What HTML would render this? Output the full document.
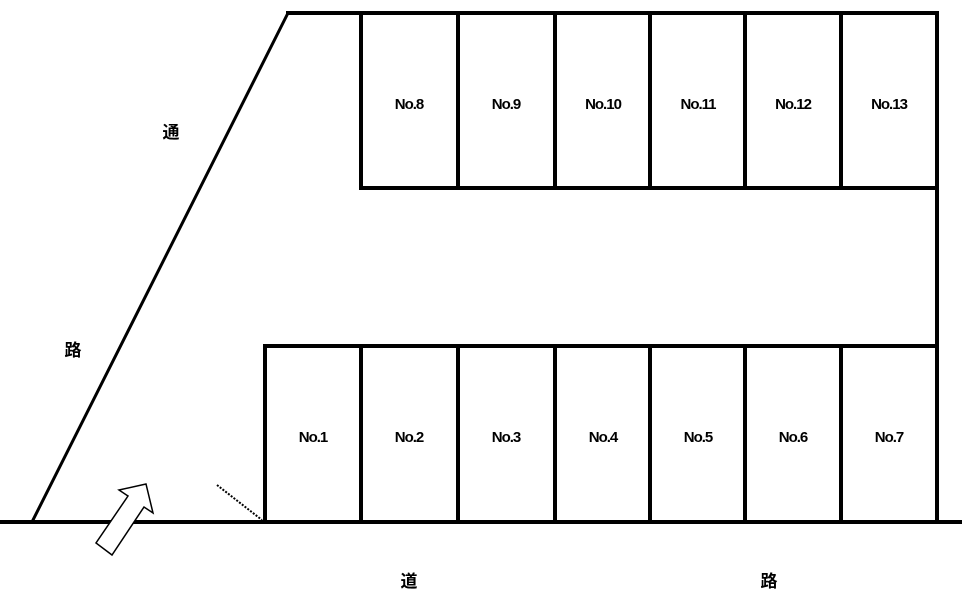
<!DOCTYPE html>
<html><head><meta charset="utf-8"><style>
html,body{margin:0;padding:0;background:#fff;width:967px;height:597px;overflow:hidden}
svg{display:block}
.n{font-family:"Liberation Sans","Noto Sans CJK JP",sans-serif;font-size:15px;font-weight:bold;text-anchor:middle;letter-spacing:-1px}
.k{font-family:"Liberation Sans","Noto Sans CJK JP",sans-serif;font-size:17px;font-weight:bold;text-anchor:middle}
</style></head><body>
<svg width="967" height="597" viewBox="0 0 967 597" xmlns="http://www.w3.org/2000/svg">
<g stroke="#000" stroke-width="4" fill="none" stroke-linecap="square">
<line x1="2" y1="522" x2="960" y2="522"/>
<line x1="288" y1="13" x2="32" y2="522" stroke-width="3"/>
<line x1="288" y1="13" x2="937" y2="13"/>
<line x1="937" y1="13" x2="937" y2="522"/>
<line x1="361" y1="188" x2="937" y2="188"/>
<line x1="265" y1="346" x2="937" y2="346"/>
<line x1="265" y1="346" x2="265" y2="522"/>
<line x1="361" y1="13" x2="361" y2="188"/>
<line x1="458" y1="13" x2="458" y2="188"/>
<line x1="555" y1="13" x2="555" y2="188"/>
<line x1="650" y1="13" x2="650" y2="188"/>
<line x1="745" y1="13" x2="745" y2="188"/>
<line x1="841" y1="13" x2="841" y2="188"/>
<line x1="361" y1="346" x2="361" y2="522"/>
<line x1="458" y1="346" x2="458" y2="522"/>
<line x1="555" y1="346" x2="555" y2="522"/>
<line x1="650" y1="346" x2="650" y2="522"/>
<line x1="745" y1="346" x2="745" y2="522"/>
<line x1="841" y1="346" x2="841" y2="522"/>
</g>
<line x1="217" y1="485" x2="262" y2="520" stroke="#000" stroke-width="2" stroke-dasharray="2,1.5"/>
<polygon points="146,484 119,490 128,496 96,543 112,555 144,507 153,513" fill="#fff" stroke="#000" stroke-width="1.5"/>
<g class="n">
<text x="409" y="109">No.8</text>
<text x="506" y="109">No.9</text>
<text x="603" y="109">No.10</text>
<text x="698" y="109">No.11</text>
<text x="793" y="109">No.12</text>
<text x="889" y="109">No.13</text>
<text x="313" y="442">No.1</text>
<text x="409" y="442">No.2</text>
<text x="506" y="442">No.3</text>
<text x="603" y="442">No.4</text>
<text x="698" y="442">No.5</text>
<text x="793" y="442">No.6</text>
<text x="889" y="442">No.7</text>
</g>
<g class="k">
<text x="171" y="138">通</text>
<text x="73" y="356">路</text>
<text x="409" y="587">道</text>
<text x="769" y="587">路</text>
</g>
</svg>
</body></html>
